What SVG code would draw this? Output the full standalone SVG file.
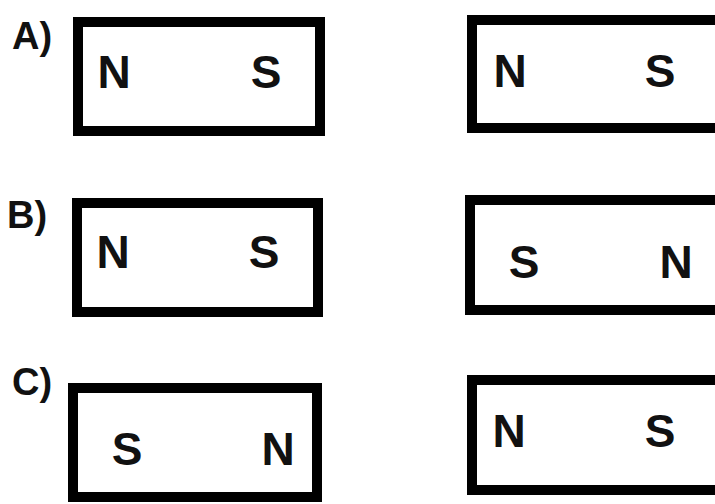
<svg xmlns="http://www.w3.org/2000/svg" width="715" height="504" viewBox="0 0 715 504">
<style>
.box{fill:#fff;stroke:#000;stroke-width:10}
.pole{font-family:"Liberation Sans",Arial,sans-serif;font-weight:bold;font-size:46px;fill:#111;text-anchor:middle}
.lbl{font-family:"Liberation Sans",Arial,sans-serif;font-weight:bold;font-size:38px;fill:#111}
</style>
<rect width="715" height="504" fill="#fff"/>
<g id="labelA"><text class="lbl" x="12" y="49">A)</text></g>
<g id="labelB"><text class="lbl" x="7" y="228">B)</text></g>
<g id="labelC"><text class="lbl" x="12" y="395">C)</text></g>
<g id="magnetA1">
<rect class="box" x="78" y="22" width="242" height="109"/>
<text class="pole" x="114" y="88">N</text>
<text class="pole" x="266" y="88">S</text>
</g>
<g id="magnetA2">
<rect class="box" x="472" y="20" width="250" height="108"/>
<text class="pole" x="510" y="87">N</text>
<text class="pole" x="660" y="87">S</text>
</g>
<g id="magnetB1">
<rect class="box" x="77" y="203" width="241" height="109"/>
<text class="pole" x="113" y="268">N</text>
<text class="pole" x="264" y="268">S</text>
</g>
<g id="magnetB2">
<rect class="box" x="470" y="200" width="252" height="110"/>
<text class="pole" x="524" y="278">S</text>
<text class="pole" x="676" y="278">N</text>
</g>
<g id="magnetC1">
<rect class="box" x="73" y="388" width="244" height="109"/>
<text class="pole" x="127" y="465">S</text>
<text class="pole" x="278" y="465">N</text>
</g>
<g id="magnetC2">
<rect class="box" x="472" y="380" width="250" height="110"/>
<text class="pole" x="509" y="447">N</text>
<text class="pole" x="660" y="447">S</text>
</g>
<g id="connectors"/>
</svg>
